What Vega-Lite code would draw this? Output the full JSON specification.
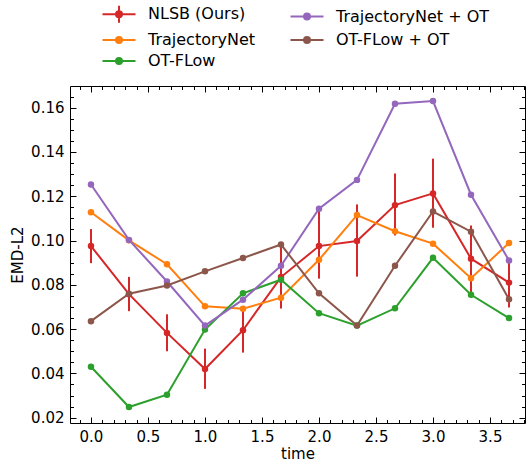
{
  "$schema": "https://vega.github.io/schema/vega-lite/v6.json",
  "width": 455,
  "height": 337,
  "autosize": {"type": "none"},
  "padding": {"left": 70, "top": 86, "right": 1, "bottom": 40},
  "background": "white",
  "config": {
    "font": "DejaVu Sans",
    "view": {"stroke": "black", "strokeWidth": 1},
    "axis": {
      "domain": false,
      "grid": false,
      "tickColor": "black",
      "tickWidth": 1,
      "tickSize": -6,
      "tickCount": 200,
      "labelColor": "black",
      "labelFont": "DejaVu Sans",
      "labelFontSize": 15,
      "titleFont": "DejaVu Sans",
      "titleFontSize": 15,
      "titleFontWeight": "normal",
      "titleColor": "black",
      "labelOverlap": false,
      "labelFlush": false,
      "labelBound": false
    }
  },
  "data": {
    "values": [
      {"method": "NLSB (Ours)", "t": 0, "emd": 0.0975, "lo": 0.0898, "hi": 0.1052},
      {"method": "NLSB (Ours)", "t": 0.3333, "emd": 0.0758, "lo": 0.0681, "hi": 0.0836},
      {"method": "NLSB (Ours)", "t": 0.6667, "emd": 0.0583, "lo": 0.0500, "hi": 0.0667},
      {"method": "NLSB (Ours)", "t": 1, "emd": 0.0420, "lo": 0.0330, "hi": 0.0512},
      {"method": "NLSB (Ours)", "t": 1.3333, "emd": 0.0595, "lo": 0.0494, "hi": 0.0685},
      {"method": "NLSB (Ours)", "t": 1.6667, "emd": 0.0835, "lo": 0.0693, "hi": 0.0983},
      {"method": "NLSB (Ours)", "t": 2, "emd": 0.0975, "lo": 0.0828, "hi": 0.1143},
      {"method": "NLSB (Ours)", "t": 2.3333, "emd": 0.0998, "lo": 0.0837, "hi": 0.1163},
      {"method": "NLSB (Ours)", "t": 2.6667, "emd": 0.1160, "lo": 0.1023, "hi": 0.1303},
      {"method": "NLSB (Ours)", "t": 3, "emd": 0.1213, "lo": 0.1058, "hi": 0.1370},
      {"method": "NLSB (Ours)", "t": 3.3333, "emd": 0.0918, "lo": 0.0753, "hi": 0.1068},
      {"method": "NLSB (Ours)", "t": 3.6667, "emd": 0.0810, "lo": 0.0698, "hi": 0.0911},
      {"method": "TrajectoryNet", "t": 0, "emd": 0.1128},
      {"method": "TrajectoryNet", "t": 0.3333, "emd": 0.1001},
      {"method": "TrajectoryNet", "t": 0.6667, "emd": 0.0893},
      {"method": "TrajectoryNet", "t": 1, "emd": 0.0703},
      {"method": "TrajectoryNet", "t": 1.3333, "emd": 0.0692},
      {"method": "TrajectoryNet", "t": 1.6667, "emd": 0.0742},
      {"method": "TrajectoryNet", "t": 2, "emd": 0.0913},
      {"method": "TrajectoryNet", "t": 2.3333, "emd": 0.1115},
      {"method": "TrajectoryNet", "t": 2.6667, "emd": 0.1042},
      {"method": "TrajectoryNet", "t": 3, "emd": 0.0986},
      {"method": "TrajectoryNet", "t": 3.3333, "emd": 0.0830},
      {"method": "TrajectoryNet", "t": 3.6667, "emd": 0.0989},
      {"method": "OT-FLow", "t": 0, "emd": 0.0430},
      {"method": "OT-FLow", "t": 0.3333, "emd": 0.0248},
      {"method": "OT-FLow", "t": 0.6667, "emd": 0.0304},
      {"method": "OT-FLow", "t": 1, "emd": 0.0598},
      {"method": "OT-FLow", "t": 1.3333, "emd": 0.0762},
      {"method": "OT-FLow", "t": 1.6667, "emd": 0.0823},
      {"method": "OT-FLow", "t": 2, "emd": 0.0672},
      {"method": "OT-FLow", "t": 2.3333, "emd": 0.0616},
      {"method": "OT-FLow", "t": 2.6667, "emd": 0.0694},
      {"method": "OT-FLow", "t": 3, "emd": 0.0922},
      {"method": "OT-FLow", "t": 3.3333, "emd": 0.0755},
      {"method": "OT-FLow", "t": 3.6667, "emd": 0.0650},
      {"method": "TrajectoryNet + OT", "t": 0, "emd": 0.1253},
      {"method": "TrajectoryNet + OT", "t": 0.3333, "emd": 0.1003},
      {"method": "TrajectoryNet + OT", "t": 0.6667, "emd": 0.0815},
      {"method": "TrajectoryNet + OT", "t": 1, "emd": 0.0616},
      {"method": "TrajectoryNet + OT", "t": 1.3333, "emd": 0.0733},
      {"method": "TrajectoryNet + OT", "t": 1.6667, "emd": 0.0886},
      {"method": "TrajectoryNet + OT", "t": 2, "emd": 0.1144},
      {"method": "TrajectoryNet + OT", "t": 2.3333, "emd": 0.1274},
      {"method": "TrajectoryNet + OT", "t": 2.6667, "emd": 0.1618},
      {"method": "TrajectoryNet + OT", "t": 3, "emd": 0.1630},
      {"method": "TrajectoryNet + OT", "t": 3.3333, "emd": 0.1207},
      {"method": "TrajectoryNet + OT", "t": 3.6667, "emd": 0.0910},
      {"method": "OT-FLow + OT", "t": 0, "emd": 0.0636},
      {"method": "OT-FLow + OT", "t": 0.3333, "emd": 0.0760},
      {"method": "OT-FLow + OT", "t": 0.6667, "emd": 0.0797},
      {"method": "OT-FLow + OT", "t": 1, "emd": 0.0861},
      {"method": "OT-FLow + OT", "t": 1.3333, "emd": 0.0921},
      {"method": "OT-FLow + OT", "t": 1.6667, "emd": 0.0982},
      {"method": "OT-FLow + OT", "t": 2, "emd": 0.0762},
      {"method": "OT-FLow + OT", "t": 2.3333, "emd": 0.0616},
      {"method": "OT-FLow + OT", "t": 2.6667, "emd": 0.0886},
      {"method": "OT-FLow + OT", "t": 3, "emd": 0.1131},
      {"method": "OT-FLow + OT", "t": 3.3333, "emd": 0.1040},
      {"method": "OT-FLow + OT", "t": 3.6667, "emd": 0.0735}
    ]
  },
  "layer": [
    {
      "layer": [
        {
          "transform": [{"filter": "datum.method === 'NLSB (Ours)'"}],
          "mark": {"type": "rule", "color": "#d62728", "strokeWidth": 2},
          "encoding": {
            "x": {"field": "t", "type": "quantitative"},
            "y": {"field": "lo", "type": "quantitative"},
            "y2": {"field": "hi"}
          }
        },
        {
          "mark": {"type": "line", "strokeWidth": 2},
          "encoding": {
            "x": {"field": "t", "type": "quantitative"},
            "y": {"field": "emd", "type": "quantitative"},
            "color": {
              "field": "method",
              "type": "nominal",
              "scale": {
                "domain": ["NLSB (Ours)", "TrajectoryNet", "OT-FLow", "TrajectoryNet + OT", "OT-FLow + OT"],
                "range": ["#d62728", "#ff7f0e", "#2ca02c", "#9467bd", "#8c564b"]
              },
              "legend": {
                "title": null,
                "orient": "none",
                "legendX": 38,
                "legendY": -83,
                "columns": 2,
                "columnPadding": 30,
                "rowPadding": 2,
                "labelFont": "DejaVu Sans",
                "labelFontSize": 16,
                "labelColor": "black",
                "labelOffset": 18,
                "symbolSize": 400,
                "encode": {
                  "symbols": {
                    "update": {
                      "shape": [
                        {"test": "datum.value === 'NLSB (Ours)'", "value": "M-1.65,0L1.65,0M0,-0.85L0,0.85M-0.3,0A0.3,0.3,0,1,0,0.3,0A0.3,0.3,0,1,0,-0.3,0Z"},
                        {"value": "M-1.65,0L1.65,0M-0.3,0A0.3,0.3,0,1,0,0.3,0A0.3,0.3,0,1,0,-0.3,0Z"}
                      ],
                      "fill": {"scale": "color", "field": "value"},
                      "stroke": {"scale": "color", "field": "value"},
                      "strokeWidth": {"value": 2},
                      "size": {"value": 400},
                      "opacity": {"value": 1},
                      "fillOpacity": {"value": 1}
                    }
                  }
                }
              }
            }
          }
        },
        {
          "mark": {"type": "point", "filled": true, "opacity": 1, "size": 42},
          "encoding": {
            "x": {
              "field": "t",
              "type": "quantitative",
              "scale": {"domain": [-0.184, 3.807], "nice": false, "zero": false},
              "axis": {
                "orient": "bottom",
                "title": "time",
                "titlePadding": 2,
                "labelPadding": 12,
                "labelOverlap": false,
                "tickCount": 200,
                "tickSize": -6,
                "values": [-0.1, 0, 0.1, 0.2, 0.3, 0.4, 0.5, 0.6, 0.7, 0.8, 0.9, 1, 1.1, 1.2, 1.3, 1.4, 1.5, 1.6, 1.7, 1.8, 1.9, 2, 2.1, 2.2, 2.3, 2.4, 2.5, 2.6, 2.7, 2.8, 2.9, 3, 3.1, 3.2, 3.3, 3.4, 3.5, 3.6, 3.7, 3.8],
                "labelExpr": "abs(datum.value*2-round(datum.value*2))<0.000001 ? format(datum.value, '.1f') : ''",
                "tickDash": {"condition": {"test": "abs(datum.value*2-round(datum.value*2))<0.000001", "value": [6, 0]}, "value": [3.5, 20]}
              }
            },
            "y": {
              "field": "emd",
              "type": "quantitative",
              "scale": {"domain": [0.0176, 0.1698], "nice": false, "zero": false},
              "axis": {
                "orient": "left",
                "title": "EMD-L2",
                "titlePadding": 5,
                "labelPadding": 12,
                "labelOverlap": false,
                "tickCount": 200,
                "tickSize": -6,
                "values": [0.02, 0.025, 0.03, 0.035, 0.04, 0.045, 0.05, 0.055, 0.06, 0.065, 0.07, 0.075, 0.08, 0.085, 0.09, 0.095, 0.1, 0.105, 0.11, 0.115, 0.12, 0.125, 0.13, 0.135, 0.14, 0.145, 0.15, 0.155, 0.16, 0.165],
                "labelExpr": "abs(datum.value*50-round(datum.value*50))<0.000001 ? format(datum.value, '.2f') : ''",
                "tickDash": {"condition": {"test": "abs(datum.value*50-round(datum.value*50))<0.000001", "value": [6, 0]}, "value": [3.5, 20]}
              }
            },
            "color": {"field": "method", "type": "nominal"}
          }
        }
      ]
    },
    {
      "mark": {"type": "point", "opacity": 0},
      "encoding": {
        "x": {
          "field": "t",
          "type": "quantitative",
          "scale": {"domain": [-0.184, 3.807], "nice": false, "zero": false},
          "axis": {
            "orient": "top",
            "title": null,
            "labels": false,
            "tickCount": 200,
            "tickSize": -6,
            "values": [-0.1, 0, 0.1, 0.2, 0.3, 0.4, 0.5, 0.6, 0.7, 0.8, 0.9, 1, 1.1, 1.2, 1.3, 1.4, 1.5, 1.6, 1.7, 1.8, 1.9, 2, 2.1, 2.2, 2.3, 2.4, 2.5, 2.6, 2.7, 2.8, 2.9, 3, 3.1, 3.2, 3.3, 3.4, 3.5, 3.6, 3.7, 3.8],
            "tickDash": {"condition": {"test": "abs(datum.value*2-round(datum.value*2))<0.000001", "value": [6, 0]}, "value": [3.5, 20]}
          }
        },
        "y": {
          "field": "emd",
          "type": "quantitative",
          "scale": {"domain": [0.0176, 0.1698], "nice": false, "zero": false},
          "axis": {
            "orient": "right",
            "title": null,
            "labels": false,
            "tickCount": 200,
            "tickSize": -6,
            "values": [0.02, 0.025, 0.03, 0.035, 0.04, 0.045, 0.05, 0.055, 0.06, 0.065, 0.07, 0.075, 0.08, 0.085, 0.09, 0.095, 0.1, 0.105, 0.11, 0.115, 0.12, 0.125, 0.13, 0.135, 0.14, 0.145, 0.15, 0.155, 0.16, 0.165],
            "tickDash": {"condition": {"test": "abs(datum.value*50-round(datum.value*50))<0.000001", "value": [6, 0]}, "value": [3.5, 20]}
          }
        }
      }
    }
  ],
  "resolve": {"axis": {"x": "independent", "y": "independent"}}
}
